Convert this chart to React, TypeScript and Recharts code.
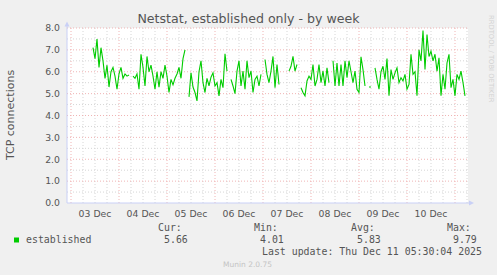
import { LineChart, Line, XAxis, YAxis, ReferenceLine, ReferenceDot, CartesianGrid } from "recharts";

// hours after 03 Dec 00:00, one sample per hour
const FIRST_HOUR = 11;
const established: (number | null)[] = [
  7.1, 6.6, 7.5, 6.2, 7.1, 6.5, 5.7, 6.3, 5.3, 6.0, 6.2, 5.8, 5.2, 5.9, 6.2, 5.7, 5.9, 5.8, 5.85, null,
  5.8, 5.7, 5.9, 5.2, 6.8, 6.2, 5.35, 6.7, 6.0, 6.3, 5.8, 5.2, 6.0, 5.3, 6.0, 5.7, 6.3, 5.8, 5.05, 5.65,
  5.4, 5.7, 5.9, 6.2, 5.7, 6.6, 7.0, null,
  4.85, 5.95, 5.3, 5.05, 4.67, 6.0, 6.5, 5.5, 5.05, 5.7, 5.35, 5.75, 5.95, 5.35, 5.5, 4.9, 5.65, 5.27, 6.82, 6.03, null,
  5.65, 5.35, 5.0, 6.03, 6.5, 5.35, 6.03, 5.2, 6.5, 5.73, 6.03, 5.05, 5.65, 5.8, 5.35, 5.88, null,
  6.56, 5.88, 5.5, 6.03, 6.7, 5.27, 6.33, 5.42, null, null, null, null,
  6.03, 6.25, 6.7, 6.03, 6.33, null,
  5.27, 5.05, 4.9, 5.58, 5.8, 5.65, 6.33, 5.35, 5.65, 6.33, 5.5, 6.03, 5.35, 6.18, 5.5, null,
  6.5, 5.35, 6.4, 5.35, 6.33, 5.35, 6.5, 5.73, 6.5, 6.0, 5.5, 6.03, 5.2, 5.05, 6.68, 6.1, 5.35, null,
  5.3, 5.3, null,
  6.18, 5.65, 5.2, 6.0, 6.25, 5.65, 6.6, 4.9, 6.1, 5.65, 5.95, 6.18, 5.5, 5.73, 5.58, 5.88, 5.2, 5.42,
  6.8, 5.88, 6.0, 4.9, 7.0, 6.5, 7.88, 6.1, 7.7, 6.7, 6.94, 6.5, 6.8, 6.03, 6.64, 4.9, 5.88, 5.2, 6.4,
  6.8, 5.27, 5.65, 4.9, 5.88, 5.65, 6.03, 5.5, 4.9,
];

const dayLabels = ["03 Dec", "04 Dec", "05 Dec", "06 Dec", "07 Dec", "08 Dec", "09 Dec", "10 Dec"];
const yTicks = [0, 1, 2, 3, 4, 5, 6, 7, 8];
const statLabels = ["Cur:", "Min:", "Avg:", "Max:"];
const statValues = ["5.66", "4.01", "5.83", "9.79"];
const lastUpdate = "Last update: Thu Dec 11 05:30:04 2025";

const X_MIN = -2;
const X_MAX = 198.5;

const data = established.map((v, i) => ({ t: FIRST_HOUR + i, v }));

const majorX = dayLabels.map((_, i) => i * 24).concat([192]);
const minorX: number[] = [];
for (let h = 6; h <= 198; h += 6) if (h % 24 !== 0) minorX.push(h);
const majorY = yTicks.filter((v) => v > 0);
const minorY = yTicks.slice(0, -1).map((v) => v + 0.5);

const AXIS = "#c9d0f6";
const MGRID = "#f0b4b4";
const GRID = "#d6d6d6";
const FONT = "#555555";

const UpArrow = (props: any) => {
  const { cx, cy } = props;
  return (
    <g>
      <line x1={cx} y1={cy} x2={cx} y2={cy - 3} stroke={AXIS} />
      <path d={`M${cx - 2.5},${cy - 1.5} L${cx + 2.5},${cy - 1.5} L${cx},${cy - 6.5} Z`} fill={AXIS} />
    </g>
  );
};

const RightArrow = (props: any) => {
  const { cx, cy } = props;
  return (
    <g>
      <line x1={cx} y1={cy} x2={cx + 3} y2={cy} stroke={AXIS} />
      <path d={`M${cx + 1},${cy - 2.5} L${cx + 1},${cy + 2.5} L${cx + 6},${cy} Z`} fill={AXIS} />
    </g>
  );
};

const statX = [158, 254, 351, 447];

export default function App() {
  return (
    <div style={{ position: "absolute", left: 0, top: 0, width: 497, height: 275, background: "#f0f0f0" }}>
      <LineChart width={497} height={275} data={data} margin={{ top: 28, right: 29, bottom: 52, left: 10 }}>
        <CartesianGrid fill="#ffffff" horizontal={false} vertical={false} />
        {minorX.map((h) => (
          <ReferenceLine key={"mx" + h} x={h} stroke={GRID} strokeDasharray="1 2" />
        ))}
        {minorY.map((v) => (
          <ReferenceLine key={"my" + v} y={v} stroke={GRID} strokeDasharray="1 2" />
        ))}
        {majorX.map((h) => (
          <ReferenceLine key={"Mx" + h} x={h} stroke={MGRID} strokeDasharray="1 2" />
        ))}
        {majorY.map((v) => (
          <ReferenceLine key={"My" + v} y={v} stroke={MGRID} strokeDasharray="1 2" />
        ))}
        <XAxis
          dataKey="t"
          type="number"
          domain={[X_MIN, X_MAX]}
          allowDataOverflow
          ticks={dayLabels.map((_, i) => i * 24 + 12)}
          tickFormatter={(t: number) => dayLabels[Math.round((t - 12) / 24)]}
          height={20}
          tickLine={false}
          tickSize={4}
          tickMargin={3}
          axisLine={{ stroke: AXIS }}
          tick={{ fill: FONT, fontSize: 9.3, fontFamily: "DejaVu Sans" }}
        />
        <YAxis
          type="number"
          domain={[0, 8]}
          ticks={yTicks}
          tickFormatter={(v: number) => v.toFixed(1)}
          width={57}
          tickLine={false}
          tickSize={5}
          tickMargin={2}
          axisLine={{ stroke: AXIS }}
          tick={{ fill: FONT, fontSize: 9.3, fontFamily: "DejaVu Sans" }}
        />
        <Line
          type="linear"
          dataKey="v"
          stroke="#00cc00"
          strokeWidth={1.1}
          dot={false}
          connectNulls={false}
          isAnimationActive={false}
        />
        <ReferenceDot x={X_MIN} y={8} r={0} ifOverflow="visible" shape={UpArrow} />
        <ReferenceDot x={X_MAX} y={0} r={0} ifOverflow="visible" shape={RightArrow} />
      </LineChart>

      <svg width={497} height={275} style={{ position: "absolute", left: 0, top: 0, pointerEvents: "none" }}>
        <text x={248.5} y={23} textAnchor="middle" fill={FONT} fontSize={12.6} fontFamily="DejaVu Sans">
          Netstat, established only - by week
        </text>
        <text transform="translate(13.5,115) rotate(-90)" textAnchor="middle" fill={FONT} fontSize={11} fontFamily="DejaVu Sans">
          TCP connections
        </text>
        <text transform="translate(489,15) rotate(90)" fill="#d2d2d2" fontSize={6.8} fontFamily="DejaVu Sans">
          RRDTOOL / TOBI OETIKER
        </text>
        <g fontFamily="DejaVu Sans Mono" fontSize={9.9} fill={FONT}>
          {statLabels.map((s, i) => (
            <text key={s} x={statX[i]} y={230.5}>{s}</text>
          ))}
          {statValues.map((s, i) => (
            <text key={s + i} x={statX[i] + 6} y={243}>{s}</text>
          ))}
          <text x={26} y={243}>established</text>
          <text x={262} y={255}>{lastUpdate}</text>
        </g>
        <rect x={14} y={237.5} width={5} height={5} fill="#00cc00" />
        <text x={247.5} y={267} textAnchor="middle" fill="#c4c4c4" fontSize={7.5} fontFamily="DejaVu Sans">
          Munin 2.0.75
        </text>
      </svg>
    </div>
  );
}
